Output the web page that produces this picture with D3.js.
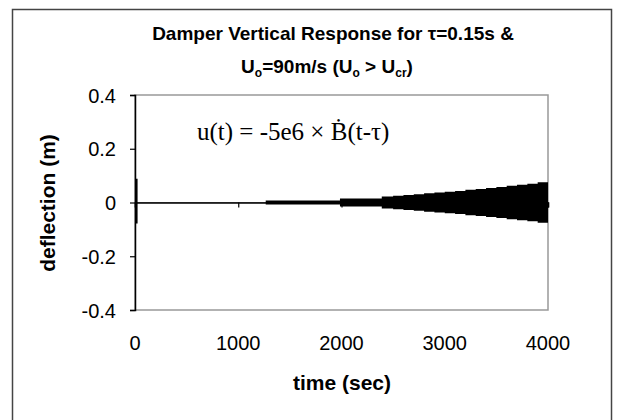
<!DOCTYPE html>
<html><head><meta charset="utf-8">
<script src="https://cdn.jsdelivr.net/npm/d3@7"></script>
<style>body{margin:0;background:#fff}svg{display:block}</style>
</head><body>
<svg id="c" width="618" height="420"></svg>
<script>
// Envelope of the oscillating deflection
const times    = [0, 25, 60, 1266, 1985, 2390, 2500, 2600, 2700, 2800, 2900, 3000, 3100, 3200, 3300, 3400, 3500, 3600, 3700, 3800, 3900, 4000];
const upperEnv = [0.088, 0.001, 0.001, 0.007, 0.015, 0.022, 0.025, 0.028, 0.031, 0.034, 0.037, 0.040, 0.043, 0.047, 0.050, 0.054, 0.058, 0.062, 0.066, 0.070, 0.075, 0.080];
const lowerEnv = [-0.078, -0.001, -0.001, -0.007, -0.015, -0.022, -0.025, -0.028, -0.031, -0.034, -0.037, -0.040, -0.043, -0.047, -0.050, -0.054, -0.058, -0.062, -0.066, -0.070, -0.075, -0.080];
const xTicks = [0, 1000, 2000, 3000, 4000];
const yTicks = [-0.4, -0.2, 0, 0.2, 0.4];
const yTickLabels = ["-0.4", "-0.2", "0", "0.2", "0.4"];

const svg = d3.select("#c");
const x = d3.scaleLinear().domain([0, 4000]).range([135, 548]);
const y = d3.scaleLinear().domain([-0.4, 0.4]).range([310, 95]);

// outer chart border
svg.append("rect").attr("x", 12.5).attr("y", 9.5).attr("width", 599).attr("height", 430)
  .attr("fill", "none").attr("stroke", "#444").attr("stroke-width", 1.5);

// plot frame
svg.append("rect").attr("x", 135).attr("y", 95).attr("width", 413).attr("height", 215)
  .attr("fill", "none").attr("stroke", "#999").attr("stroke-width", 1.5);

// data envelope
const data = times.map((t, i) => ({t, hi: upperEnv[i], lo: lowerEnv[i]}));
svg.append("path").datum(data)
  .attr("d", d3.area().x(d => x(d.t)).y0(d => y(d.lo)).y1(d => y(d.hi)).curve(d3.curveStepAfter))
  .attr("fill", "#000");

// y axis
const ya = svg.append("g").attr("transform", "translate(135,0)")
  .call(d3.axisLeft(y).tickValues(yTicks).tickSize(5).tickFormat((d, i) => yTickLabels[i]));
ya.select(".domain").attr("stroke", "#000").attr("stroke-width", 1.5);
ya.selectAll("line").attr("stroke", "#000").attr("stroke-width", 1.2);
ya.selectAll("text").attr("font-family", "Liberation Sans, Arial, sans-serif").attr("font-size", 20)
  .attr("fill", "#000").attr("x", -19).attr("dy", "0.35em");

// zero line with x ticks
const xa = svg.append("g").attr("transform", `translate(0,${y(0)})`)
  .call(d3.axisBottom(x).tickValues(xTicks).tickSize(5).tickFormat(""));
xa.select(".domain").attr("stroke", "#000").attr("stroke-width", 1.5);
xa.selectAll("line").attr("stroke", "#000").attr("stroke-width", 1.2);

// x tick labels at bottom
svg.append("g").selectAll("text").data(xTicks).join("text")
  .attr("x", d => x(d)).attr("y", 350).attr("text-anchor", "middle")
  .attr("font-family", "Liberation Sans, Arial, sans-serif").attr("font-size", 20)
  .text(d => d);

// axis titles
svg.append("text").attr("x", 342).attr("y", 390).attr("text-anchor", "middle")
  .attr("font-family", "Liberation Sans, Arial, sans-serif").attr("font-weight", "bold").attr("font-size", 21)
  .text("time (sec)");
svg.append("text").attr("transform", "translate(55,203) rotate(-90)").attr("text-anchor", "middle")
  .attr("font-family", "Liberation Sans, Arial, sans-serif").attr("font-weight", "bold").attr("font-size", 21)
  .text("deflection (m)");

// title
const t = svg.append("text").attr("text-anchor", "middle")
  .attr("font-family", "Liberation Sans, Arial, sans-serif").attr("font-weight", "bold").attr("font-size", 19);
t.append("tspan").attr("x", 333).attr("y", 40).text("Damper Vertical Response for τ=0.15s &");
const l2 = svg.append("text").attr("text-anchor", "middle").attr("x", 327).attr("y", 73)
  .attr("font-family", "Liberation Sans, Arial, sans-serif").attr("font-weight", "bold").attr("font-size", 19);
l2.append("tspan").text("U");
l2.append("tspan").attr("font-size", 12).attr("dy", 4).text("o");
l2.append("tspan").attr("dy", -4).text("=90m/s (U");
l2.append("tspan").attr("font-size", 12).attr("dy", 4).text("o");
l2.append("tspan").attr("dy", -4).text(" > U");
l2.append("tspan").attr("font-size", 12).attr("dy", 4).text("cr");
l2.append("tspan").attr("dy", -4).text(")");

// equation annotation
svg.append("text").attr("x", 197).attr("y", 140)
  .attr("font-family", "Liberation Serif, Times New Roman, serif").attr("font-size", 25)
  .text("u(t) = -5e6 × Ḃ(t-τ)");
</script>
</body></html>
